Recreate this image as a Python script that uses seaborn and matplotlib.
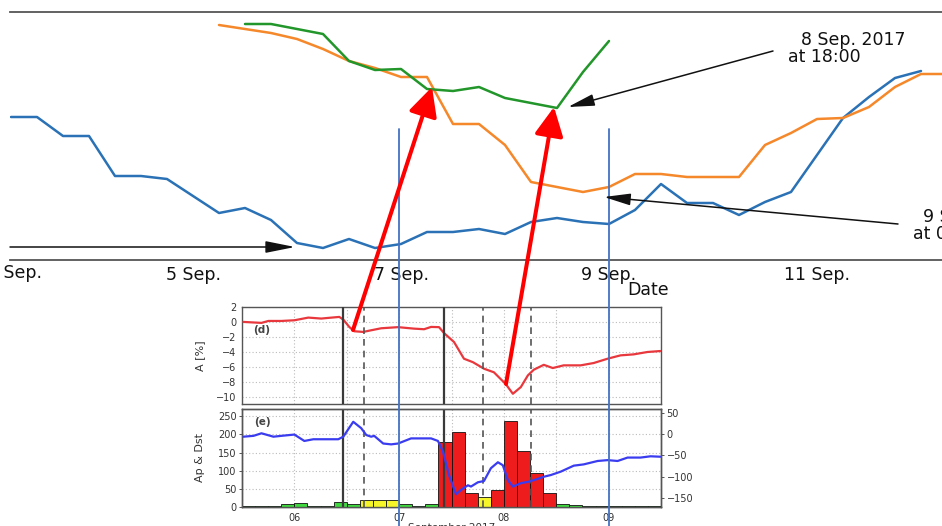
import numpy as np
import pandas as pd
import matplotlib
matplotlib.use("Agg")
import matplotlib.pyplot as plt
import matplotlib.dates as mdates
import matplotlib.transforms as mtransforms
from matplotlib.patches import FancyArrowPatch, ArrowStyle
from matplotlib.lines import Line2D
import seaborn as sns

# ------------------------------------------------------------------ data
# upper panel: three 6-hourly series (relative units)
blue_start = "2017-09-03 06:00"
blue_vals = [143, 143, 124, 124, 84, 84, 81, 64, 47, 52, 40, 17, 12, 21, 12, 16,
             28, 28, 31, 26, 38, 42, 38, 36, 50, 76, 57, 57, 45, 58, 68, 105,
             142, 163, 182, 189]
orange_start = "2017-09-05 06:00"
orange_vals = [235, 231, 227, 221, 211, 199, 192, 183, 183, 136, 136, 115, 78,
               73, 68, 73, 86, 86, 83, 83, 83, 115, 127, 141, 142, 153, 173,
               186, 186]
green_start = "2017-09-05 12:00"
green_vals = [236, 236, 231, 226, 199, 190, 191, 171, 169, 173, 162, 157, 152,
              188, 219]
top_tick_dates = ["2017-09-05", "2017-09-07", "2017-09-09", "2017-09-11"]
top_tick_labels = ["5 Sep.", "7 Sep.", "9 Sep.", "11 Sep."]
first_tick_date = "2017-09-03"
first_tick_label = "3 Sep."

# panel (d): A [%]  (day of September, value)
a_days = [5.514, 5.686, 5.752, 5.876, 6.0, 6.133, 6.257, 6.324, 6.429, 6.467,
          6.524, 6.571, 6.657, 6.733, 6.829, 6.99, 7.143, 7.238, 7.305, 7.381,
          7.429, 7.524, 7.619, 7.705, 7.81, 7.905, 8.019, 8.086, 8.162, 8.229,
          8.286, 8.381, 8.467, 8.571, 8.733, 8.857, 8.99, 9.114, 9.238, 9.371,
          9.495]
a_vals = [0.0, -0.13, 0.13, 0.13, 0.22, 0.58, 0.45, 0.54, 0.67, 0.31,
          -0.67, -1.25, -1.34, -1.12, -0.85, -0.7, -0.9, -0.98, -0.67, -0.7,
          -1.5, -2.69, -4.93, -5.4, -6.27, -6.75, -8.35, -9.63, -8.73, -7.17,
          -6.4, -5.75, -6.18, -5.82, -5.82, -5.51, -4.93, -4.48, -4.35, -4.03,
          -3.9]

# panel (e): 3-hourly Ap bars starting 5 Sep 12:00
ap_start = "2017-09-05 12:00"
ap_vals = [2, 2, 2, 7, 12, 4, 3, 15, 7, 18, 18, 18, 7, 4, 7, 179, 207, 39, 27,
           48, 236, 154, 94, 39, 7, 5, 3, 2, 3, 3, 2, 2]
# panel (e): Dst (right axis)
dst_days = [5.514, 5.61, 5.686, 5.8, 5.876, 6.0, 6.095, 6.181, 6.419, 6.467,
            6.562, 6.638, 6.686, 6.733, 6.762, 6.848, 6.924, 6.99, 7.114, 7.305,
            7.371, 7.419, 7.476, 7.543, 7.59, 7.657, 7.686, 7.752, 7.81, 7.876,
            7.943, 7.99, 8.038, 8.086, 8.162, 8.229, 8.286, 8.381, 8.448, 8.543,
            8.667, 8.762, 8.895, 8.99, 9.086, 9.181, 9.305, 9.4, 9.495]
dst_vals = [-6, -4, 2, -6, -4, -1, -16, -12, -12, -6,
            29, 14, -2, -6, -4, -22, -24, -22, -10, -10,
            -16, -41, -96, -141, -131, -120, -123, -113, -110, -80,
            -66, -73, -108, -123, -115, -112, -108, -100, -96, -88,
            -74, -71, -63, -61, -63, -55, -55, -52, -53]
onset_days = [6.467, 7.429]
dashed_days = [6.667, 7.80, 8.257]
marker_days = [7.0, 9.0]
bottom_tick_days = [6, 7, 8, 9]
bottom_tick_labels = ["06", "07", "08", "09"]

# ------------------------------------------------------------------ helpers
BASE = pd.Timestamp("2017-09-01")


def dnum_days(days):
    return mdates.date2num(BASE + pd.to_timedelta(np.asarray(days, float) - 1, unit="D"))


def series_x(start, n, hours):
    return mdates.date2num(pd.date_range(start, periods=n, freq=f"{hours}h"))


W, H = 942, 526
sns.set_theme(style="white")
plt.rcParams["font.family"] = ["DejaVu Sans"]
fig = plt.figure(figsize=(W / 100, H / 100), dpi=100)
fig.patch.set_facecolor("white")


def fx(px):
    return px / W


def fy(py):
    return 1 - py / H


# ------------------------------------------------------------------ top panel
ax = fig.add_axes([fx(10), 266 / H, 1020 / W, 248 / H])
df_b = pd.DataFrame({"t": series_x(blue_start, len(blue_vals), 6), "v": blue_vals})
df_o = pd.DataFrame({"t": series_x(orange_start, len(orange_vals), 6), "v": orange_vals})
df_g = pd.DataFrame({"t": series_x(green_start, len(green_vals), 6), "v": green_vals})
sns.lineplot(data=df_b, x="t", y="v", ax=ax, color="#2a72b5", lw=1.8)
sns.lineplot(data=df_o, x="t", y="v", ax=ax, color="#f5882a", lw=1.8)
sns.lineplot(data=df_g, x="t", y="v", ax=ax, color="#22962a", lw=1.8)
ax.set_yticks([])
ax.set_xticks(mdates.date2num(pd.to_datetime(top_tick_dates)))
ax.set_xticklabels(top_tick_labels)
t0 = 5 + (10 - 193) / 104
t1 = 5 + (1030 - 193) / 104
ax.set_xlim(dnum_days([t0])[0], dnum_days([t1])[0])
ax.set_ylim(0, 248)
ax.tick_params(axis="x", direction="out", length=3, width=1.2, color="#444",
               pad=1.5, labelsize=12.5, labelcolor="#111")
ax.set_xlabel("")
ax.set_ylabel("")
for s in ["left", "right"]:
    ax.spines[s].set_visible(False)
for s in ["top", "bottom"]:
    ax.spines[s].set_color("#555")
    ax.spines[s].set_linewidth(1.3)
# the first date label lies mostly left of the visible area (only its end shows)
ax.annotate(first_tick_label,
            xy=(mdates.date2num(pd.Timestamp(first_tick_date)), 0),
            xycoords=ax.get_xaxis_transform(), xytext=(57, -4.5),
            textcoords="offset pixels", ha="right", va="top", fontsize=12.5,
            color="#111", annotation_clip=False)
fig.text(fx(648), fy(281), "Date", ha="center", va="top", fontsize=12.5, color="#111")

# ------------------------------------------------------------------ panel (d)
grid_x = dnum_days(np.arange(5.5, 9.51, 0.5))
axd = fig.add_axes([fx(242), 122 / H, 419 / W, 97 / H])
df_a = pd.DataFrame({"t": dnum_days(a_days), "v": a_vals})
sns.lineplot(data=df_a, x="t", y="v", ax=axd, color="#e8383d", lw=1.6, zorder=4)
axd.set_yticks([2, 0, -2, -4, -6, -8, -10])
axd.set_xticks(dnum_days(bottom_tick_days))
axd.set_xticklabels([])
axd.set_xlim(dnum_days([5.5])[0], dnum_days([9.5])[0])
axd.set_ylim(-11, 2)
axd.set_xlabel("")
axd.set_ylabel("A [%]", fontsize=8, color="#333", labelpad=2)
axd.yaxis.set_label_coords(-(242 - 205) / 419, 0.5)

# ------------------------------------------------------------------ panel (e)
axe = fig.add_axes([fx(242), 19 / H, 419 / W, 98 / H])
ap_x = series_x(ap_start, len(ap_vals), 3)
ap_cols = ["#ee1c1c" if v >= 39 else ("#f5f52a" if v >= 18 else "#3fd83f") for v in ap_vals]
axe.bar(ap_x, ap_vals, width=0.125, align="edge", color=ap_cols,
        edgecolor="#111", linewidth=0.6, zorder=3)
axe.set_yticks([0, 50, 100, 150, 200, 250])
axe.set_xticks(dnum_days(bottom_tick_days))
axe.set_xticklabels(bottom_tick_labels)
axe.set_xlim(dnum_days([5.5])[0], dnum_days([9.5])[0])
axe.set_ylim(0, 270)
axe.set_ylabel("Ap & Dst", fontsize=8, color="#333")
axe.yaxis.set_label_coords(-(242 - 205) / 419, 0.5)
axe.set_xlabel("September 2017", fontsize=7.5, color="#333", labelpad=0.5)

axe2 = axe.twinx()
df_d = pd.DataFrame({"t": dnum_days(dst_days), "v": dst_vals})
sns.lineplot(data=df_d, x="t", y="v", ax=axe2, color="#3a3cf0", lw=1.6, zorder=5)
axe2.set_yticks([50, 0, -50, -100, -150])
axe2.set_ylim(-171, 59)
axe2.set_ylabel("")
axe2.set_xlabel("")
axe2.set_xlim(dnum_days([5.5])[0], dnum_days([9.5])[0])

for a in (axd, axe, axe2):
    a.tick_params(labelsize=7, labelcolor="#333", length=2.5, width=0.7,
                  color="#555", pad=1.5)
    for s in a.spines.values():
        s.set_color("#555")
        s.set_linewidth(1.0)
for a in (axd, axe):
    a.set_axisbelow(True)
    for gx in grid_x:
        a.axvline(gx, color="#bbbbbb", lw=0.8, ls=(0, (1, 2)), zorder=0)
    a.yaxis.grid(True, color="#bbbbbb", lw=0.8, ls=(0, (1, 2)))
    a.xaxis.grid(False)
    for od in dnum_days(onset_days):
        a.axvline(od, color="#3a3a3a", lw=1.6, zorder=6)
    for dd in dnum_days(dashed_days):
        a.axvline(dd, color="#555", lw=1.2, ls=(0, (4, 3)), zorder=6)

axd.text(0.048, 0.76, "(d)", transform=axd.transAxes, fontsize=7.5,
         color="#444", ha="center", va="center", fontweight="bold")
axe.text(0.048, 0.87, "(e)", transform=axe.transAxes, fontsize=7.5,
         color="#444", ha="center", va="center", fontweight="bold")

# ------------------------------------------------------------------ overlays
blend = mtransforms.blended_transform_factory(axe.transData, fig.transFigure)
for md in dnum_days(marker_days):
    fig.add_artist(Line2D([md, md], [0, fy(129)], transform=blend,
                          color="#4472c4", lw=1.3, zorder=10))


def arrow(p0, p1, color, lw, hl, hw, ms, z):
    st = ArrowStyle("-|>", head_length=hl, head_width=hw)
    fig.add_artist(FancyArrowPatch((fx(p0[0]), fy(p0[1])), (fx(p1[0]), fy(p1[1])),
                                   transform=fig.transFigure, arrowstyle=st,
                                   mutation_scale=ms, color=color, lw=lw,
                                   shrinkA=0, shrinkB=0, zorder=z))


arrow((773, 51), (568, 107), "#111", 1.1, 0.9, 0.2, 18, 11)
arrow((898, 224), (604, 197), "#111", 1.1, 0.9, 0.2, 18, 11)
arrow((10, 247), (295, 247), "#111", 1.1, 1.0, 0.2, 18, 11)
arrow((353, 330), (432, 87), "#ff0000", 2.9, 0.7, 0.35, 25, 12)
arrow((506, 384), (554, 107), "#ff0000", 2.9, 0.7, 0.35, 25, 12)

fig.text(fx(801), fy(31), "8 Sep. 2017", ha="left", va="top", fontsize=12.5, color="#111")
fig.text(fx(788), fy(48), "at 18:00", ha="left", va="top", fontsize=12.5, color="#111")
fig.text(fx(923), fy(208), "9 Sep. 2017", ha="left", va="top", fontsize=12.5, color="#111")
fig.text(fx(913), fy(225), "at 00:00", ha="left", va="top", fontsize=12.5, color="#111")

fig.savefig("out.png", dpi=100, facecolor="white")
